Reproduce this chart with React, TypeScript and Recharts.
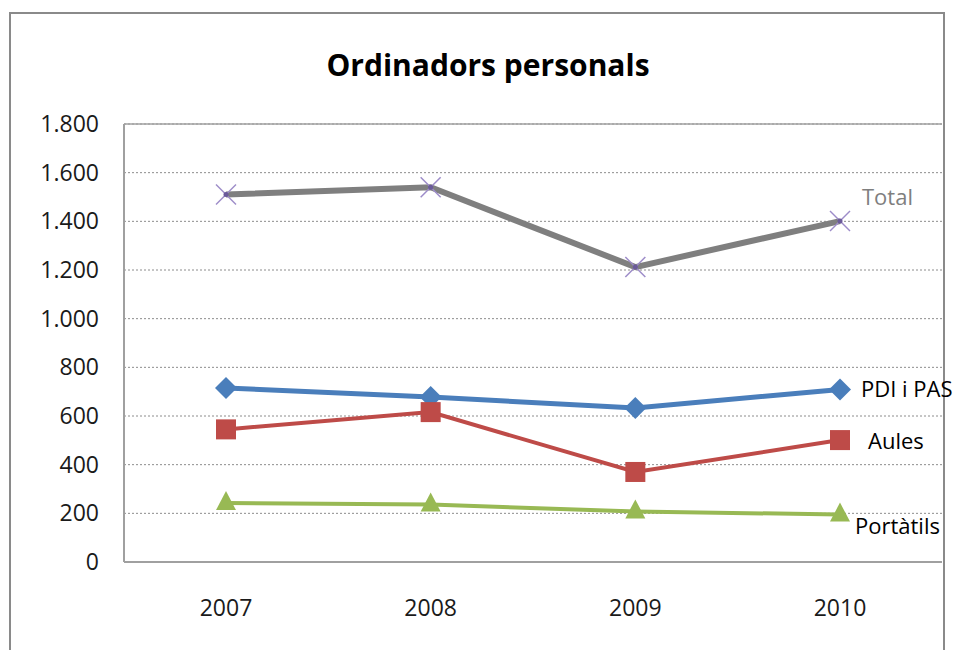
import React from 'react'
import { LineChart, Line, XAxis, YAxis, CartesianGrid, ReferenceLine } from 'recharts'

const years = ['2007', '2008', '2009', '2010']
const total = [1510, 1540, 1212, 1401]
const pdiPas = [715, 678, 633, 709]
const aules = [545, 616, 370, 501]
const portatils = [242, 236, 208, 195]
const yTicks = [0, 200, 400, 600, 800, 1000, 1200, 1400, 1600, 1800]

const data = years.map((year, i) => ({
  year,
  total: total[i],
  pdiPas: pdiPas[i],
  aules: aules[i],
  portatils: portatils[i],
}))

const FONT = '"Open Sans", "Noto Sans", sans-serif'

const fmt = (v: number) => v.toLocaleString('de-DE')

const CrossDot = (p: any) => {
  const { cx, cy, index } = p
  const s = 10
  return (
    <g key={`x-${index}`}>
      <line x1={cx - s} y1={cy - s} x2={cx + s} y2={cy + s} stroke="#9d8cc9" strokeWidth={1.5} />
      <line x1={cx - s} y1={cy + s} x2={cx + s} y2={cy - s} stroke="#9d8cc9" strokeWidth={1.5} />
      <circle cx={cx} cy={cy} r={2.5} fill="#6b5a9a" />
    </g>
  )
}

const DiamondDot = (p: any) => {
  const { cx, cy, index } = p
  const s = 11
  return (
    <path
      key={`d-${index}`}
      d={`M${cx},${cy - s} L${cx + s},${cy} L${cx},${cy + s} L${cx - s},${cy} Z`}
      fill="#4a7ebb"
    />
  )
}

const SquareDot = (p: any) => {
  const { cx, cy, index } = p
  const s = 10
  return <rect key={`s-${index}`} x={cx - s} y={cy - s} width={2 * s} height={2 * s} fill="#be4b48" />
}

const TriangleDot = (p: any) => {
  const { cx, cy, index } = p
  return (
    <path
      key={`t-${index}`}
      d={`M${cx},${cy - 12} L${cx + 10},${cy + 7} L${cx - 10},${cy + 7} Z`}
      fill="#98b954"
    />
  )
}

const endLabel = (text: string, dx: number, dy: number, color: string) => (p: any) => {
  const { x, y, index } = p
  if (index !== years.length - 1) return null
  return (
    <text
      key={`l-${text}`}
      x={x + dx}
      y={y + dy}
      dominantBaseline="central"
      fontFamily={FONT}
      fontSize={22}
      fill={color}
    >
      {text}
    </text>
  )
}

export default function App() {
  return (
    <div style={{ position: 'absolute', left: 0, top: 0, width: 955, height: 650, overflow: 'hidden', background: '#fff' }}>
      <div
        style={{
          position: 'absolute',
          left: 9,
          top: 12,
          width: 932,
          height: 660,
          border: '2px solid #8a8a8a',
        }}
      />
      <div
        style={{
          position: 'absolute',
          left: 288,
          width: 400,
          top: 44,
          textAlign: 'center',
          fontFamily: FONT,
          fontWeight: 700,
          fontSize: 30,
          color: '#000',
        }}
      >
        Ordinadors personals
      </div>
      <div style={{ position: 'absolute', left: 0, top: 0 }}>
        <LineChart width={955} height={650} data={data} margin={{ top: 124, right: 13, left: 24, bottom: 48 }}>
          <CartesianGrid vertical={false} strokeDasharray="2 2" stroke="#8c8c8c" />
          <ReferenceLine y={1800} stroke="#a0a0a0" strokeWidth={1.5} />
          <XAxis
            dataKey="year"
            padding={{ left: 102, right: 102 }}
            height={40}
            axisLine={{ stroke: '#a0a0a0', strokeWidth: 2 }}
            tickLine={false}
            tickSize={0}
            tickMargin={38}
            tick={{ fill: '#1a1a1a', fontSize: 23, fontFamily: FONT }}
          />
          <YAxis
            width={100}
            domain={[0, 1800]}
            ticks={yTicks}
            interval={0}
            tickFormatter={fmt}
            axisLine={{ stroke: '#a0a0a0', strokeWidth: 2 }}
            tickLine={false}
            tickSize={0}
            tickMargin={25}
            tick={{ fill: '#1a1a1a', fontSize: 23, fontFamily: FONT }}
          />
          <Line
            dataKey="total"
            stroke="#7f7f7f"
            strokeWidth={6}
            dot={CrossDot}
            activeDot={false}
            label={endLabel('Total', 22, -25, '#7f7f7f')}
            isAnimationActive={false}
          />
          <Line
            dataKey="pdiPas"
            stroke="#4a7ebb"
            strokeWidth={5}
            dot={DiamondDot}
            activeDot={false}
            label={endLabel('PDI i PAS', 21, -1, '#000')}
            isAnimationActive={false}
          />
          <Line
            dataKey="aules"
            stroke="#be4b48"
            strokeWidth={4}
            dot={SquareDot}
            activeDot={false}
            label={endLabel('Aules', 28, 0, '#000')}
            isAnimationActive={false}
          />
          <Line
            dataKey="portatils"
            stroke="#98b954"
            strokeWidth={4}
            dot={TriangleDot}
            activeDot={false}
            label={endLabel('Portàtils', 15, 10, '#000')}
            isAnimationActive={false}
          />
        </LineChart>
      </div>
    </div>
  )
}
